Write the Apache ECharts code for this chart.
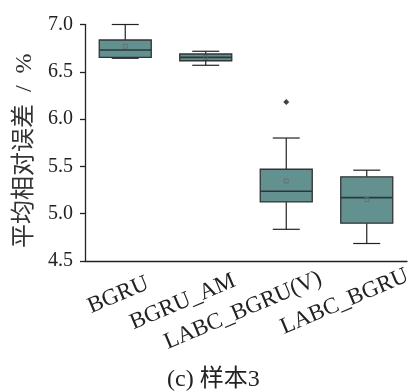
<!DOCTYPE html>
<html>
<head>
<meta charset="utf-8">
<script src="https://cdn.jsdelivr.net/npm/echarts@6/dist/echarts.min.js"></script>
<style>
  html, body { margin: 0; padding: 0; background: #fff; }
  #main { width: 415px; height: 392px; }
</style>
</head>
<body>
<div id="main"></div>
<script>
// 数据：箱线图各项统计量
var categories = ['BGRU', 'BGRU_AM', 'LABC_BGRU(V)', 'LABC_BGRU'];
var whiskerLow = [6.643, 6.569, 4.835, 4.685];
var q1 = [6.653, 6.617, 5.125, 4.90];
var median = [6.73, 6.653, 5.237, 5.17];
var q3 = [6.836, 6.688, 5.47, 5.39];
var whiskerHigh = [7.0, 6.717, 5.80, 5.46];
var means = [6.77, 6.652, 5.345, 5.15];
var outliers = [[2, 6.18]];
var yTicks = [4.5, 5.0, 5.5, 6.0, 6.5, 7.0];

// x 轴标签的微调（只是样式）
var labelPad = [[0, 30, 0, 0], [0, 23, 0, 0], [10, 17, 0, 0], [30, 10, 0, 0]];

var serif = "'Liberation Serif', 'Noto Sans CJK SC', serif";
var boxColor = '#62918f';

var chart = echarts.init(document.getElementById('main'));

var boxData = categories.map(function (c, i) {
    return [i, whiskerLow[i], q1[i], median[i], q3[i], whiskerHigh[i]];
});

function renderBox(params, api) {
    var x = api.value(0);
    var lo = api.coord([x, api.value(1)]);
    var b1 = api.coord([x, api.value(2)]);
    var md = api.coord([x, api.value(3)]);
    var b3 = api.coord([x, api.value(4)]);
    var hi = api.coord([x, api.value(5)]);
    var cx = lo[0];
    var bw = 52, cw = 27;
    var lineStyle = { stroke: '#222', lineWidth: 1.2 };
    return {
        type: 'group',
        children: [
            { type: 'line', shape: { x1: cx, y1: hi[1], x2: cx, y2: b3[1] }, style: lineStyle },
            { type: 'line', shape: { x1: cx, y1: b1[1], x2: cx, y2: lo[1] }, style: lineStyle },
            { type: 'line', shape: { x1: cx - cw / 2, y1: hi[1], x2: cx + cw / 2, y2: hi[1] }, style: lineStyle },
            { type: 'line', shape: { x1: cx - cw / 2, y1: lo[1], x2: cx + cw / 2, y2: lo[1] }, style: lineStyle },
            {
                type: 'rect',
                shape: { x: cx - bw / 2, y: b3[1], width: bw, height: b1[1] - b3[1] },
                style: { fill: boxColor, stroke: '#333', lineWidth: 1.3 }
            },
            { type: 'line', shape: { x1: cx - bw / 2, y1: md[1], x2: cx + bw / 2, y2: md[1] }, style: { stroke: '#2a3a3a', lineWidth: 1.6 } }
        ]
    };
}

chart.setOption({
    animation: false,
    backgroundColor: '#fff',
    title: {
        text: '(c) 样本3',
        left: 167,
        top: 368,
        padding: 0,
        textStyle: { fontFamily: serif, fontSize: 24, fontWeight: 'normal', color: '#222' }
    },
    grid: [
        { left: 85, right: 8, top: 24.5, bottom: 131, outerBoundsMode: 'none' },
        // 只用来摆放 x 轴标签
        { left: 135, width: 322, top: 24.5, bottom: 121, outerBoundsMode: 'none' }
    ],
    xAxis: [{
        type: 'category',
        gridIndex: 0,
        data: categories,
        boundaryGap: true,
        axisLine: { lineStyle: { color: '#222', width: 1.3 } },
        axisTick: { inside: true, length: 6, alignWithLabel: true, lineStyle: { color: '#222', width: 1.3 } },
        axisLabel: { show: false },
        splitLine: { show: false }
    }, {
        type: 'category',
        gridIndex: 1,
        data: categories.map(function (c, i) {
            return { value: c, textStyle: { padding: labelPad[i] } };
        }),
        axisLine: { show: false },
        axisTick: { show: false },
        axisLabel: {
            interval: 0,
            rotate: 23,
            align: 'right',
            verticalAlign: 'top',
            margin: 0,
            fontFamily: serif,
            fontSize: 23,
            color: '#222'
        },
        splitLine: { show: false }
    }],
    yAxis: [{
        type: 'value',
        gridIndex: 0,
        min: yTicks[0],
        max: yTicks[yTicks.length - 1],
        interval: 0.5,
        name: '平均相对误差  /  %',
        nameLocation: 'middle',
        nameRotate: 90,
        nameGap: 48,
        nameTextStyle: { fontFamily: serif, fontSize: 24, color: '#333', padding: [0, 16, 0, 0] },
        axisLine: { show: true, lineStyle: { color: '#222', width: 1.3 } },
        axisTick: { show: true, inside: false, length: 5, lineStyle: { color: '#222', width: 1.3 } },
        axisLabel: {
            margin: 12,
            fontFamily: serif,
            fontSize: 20,
            color: '#222',
            formatter: function (v) { return v.toFixed(1); }
        },
        splitLine: { show: false }
    }, {
        type: 'value',
        gridIndex: 1,
        show: false
    }],
    series: [{
        type: 'custom',
        name: 'box',
        xAxisIndex: 0,
        yAxisIndex: 0,
        renderItem: renderBox,
        encode: { x: 0, y: [1, 2, 3, 4, 5] },
        data: boxData,
        z: 2
    }, {
        type: 'scatter',
        name: 'mean',
        xAxisIndex: 0,
        yAxisIndex: 0,
        symbol: 'rect',
        symbolSize: 4,
        itemStyle: { color: 'rgba(0,0,0,0)', borderColor: '#6a6a6a', borderWidth: 1 },
        data: means.map(function (m, i) { return [i, m]; }),
        z: 3
    }, {
        type: 'scatter',
        name: 'outlier',
        xAxisIndex: 0,
        yAxisIndex: 0,
        symbol: 'diamond',
        symbolSize: 6,
        itemStyle: { color: '#111' },
        data: outliers,
        z: 3
    }]
});
</script>
</body>
</html>
